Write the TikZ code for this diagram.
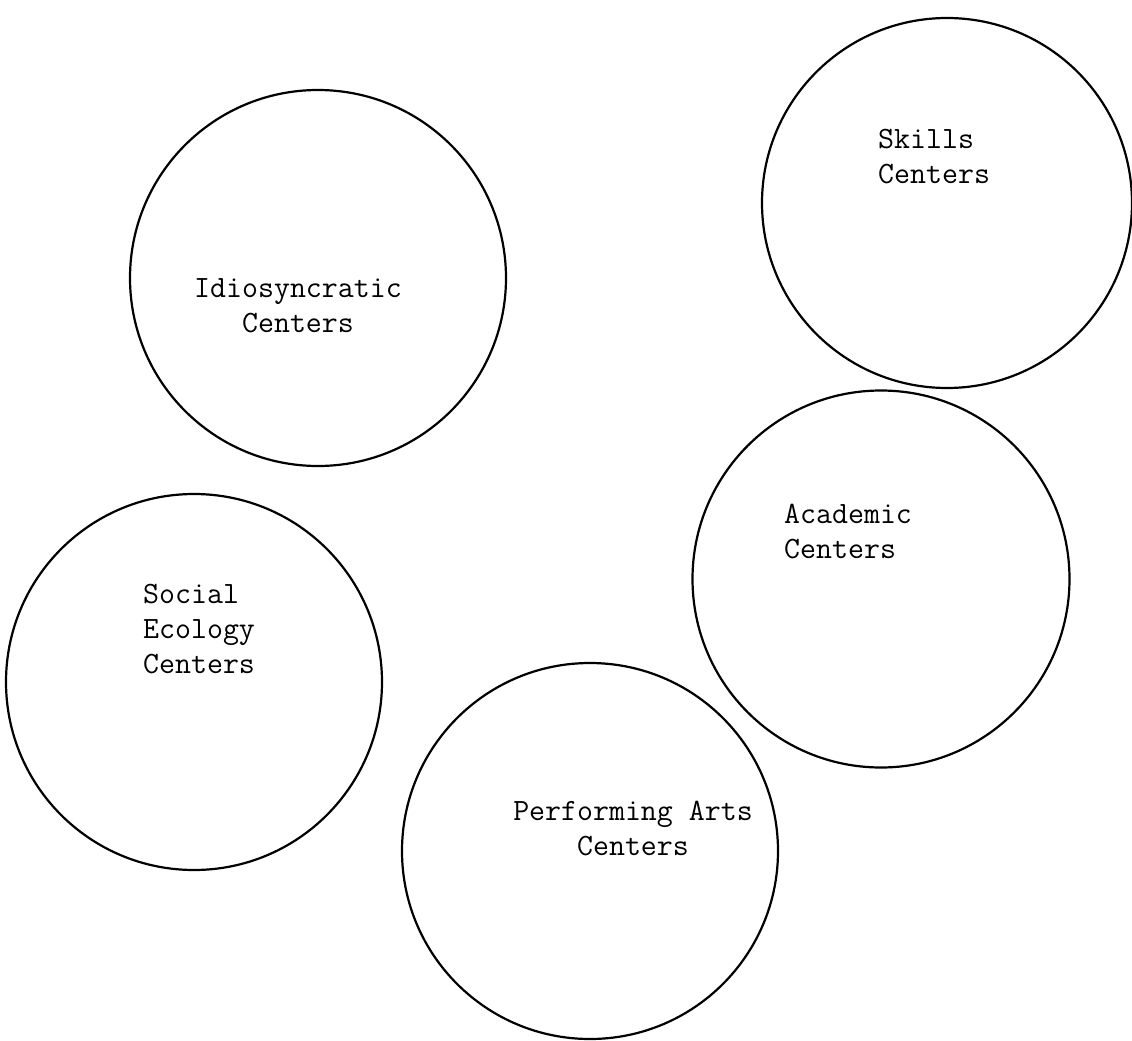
\documentclass[tikz,border=0pt]{standalone}
\tikzset{
  ring/.style={circle, draw=black, line width=2.2pt, inner sep=0pt},
  lbl/.style={font=\ttfamily\fontsize{31}{35}\selectfont, inner sep=0pt}
}
\begin{document}
\begin{tikzpicture}[x=1pt,y=-1pt]
\path[use as bounding box, fill=white] (0,0) rectangle (1132,1041);
% circles
\node[ring, minimum size=376pt] (idio) at (318,278) {};
\node[ring, minimum size=370pt] (skills) at (947,203) {};
\node[ring, minimum size=377pt] (acad) at (881,579) {};
\node[ring, minimum size=376pt] (social) at (194,682) {};
\node[ring, minimum size=376pt] (perf) at (590,851) {};
% labels
\node[lbl, anchor=base] (idiotxt) at (298,297) {\begin{tabular}[t]{@{}c@{}}Idiosyncratic\\Centers\end{tabular}};
\node[lbl, anchor=base west] (skillstxt) at (878,148) {\begin{tabular}[t]{@{}l@{}}Skills\\Centers\end{tabular}};
\node[lbl, anchor=base west] (acadtxt) at (784,523) {\begin{tabular}[t]{@{}l@{}}Academic\\Centers\end{tabular}};
\node[lbl, anchor=base west] (socialtxt) at (143,603) {\begin{tabular}[t]{@{}l@{}}Social\\Ecology\\Centers\end{tabular}};
\node[lbl, anchor=base] (perftxt) at (633,820) {\begin{tabular}[t]{@{}c@{}}Performing Arts\\Centers\end{tabular}};
\end{tikzpicture}
\end{document}
